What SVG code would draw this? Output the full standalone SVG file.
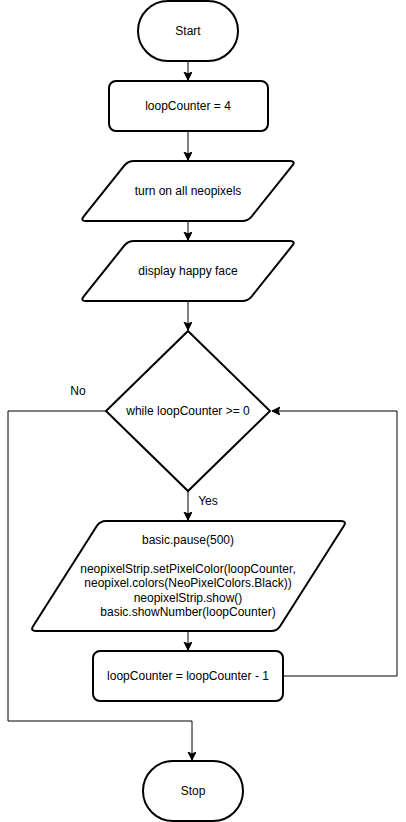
<svg xmlns="http://www.w3.org/2000/svg" width="406" height="822" viewBox="0 0 406 822">
<style>
.s{fill:#fff;stroke:#000;stroke-width:2}
.c{fill:none;stroke:#000;stroke-width:1}
text{font-family:"Liberation Sans",Arial,sans-serif;font-size:12px;fill:#000;text-anchor:middle;dominant-baseline:central}
</style>
<defs>
<marker id="a" markerWidth="10" markerHeight="10" refX="8" refY="4" orient="auto" markerUnits="userSpaceOnUse">
<path d="M0,0 L8,4 L0,8 L2,4 Z" fill="#000" stroke="#000" stroke-width="1"/>
</marker>
</defs>
<rect width="406" height="822" fill="#fff"/>
<g id="connectors">
<path class="c" d="M188,61 V80" marker-end="url(#a)"/>
<path class="c" d="M188,131 V160" marker-end="url(#a)"/>
<path class="c" d="M188,221 V240" marker-end="url(#a)"/>
<path class="c" d="M188,301 V330" marker-end="url(#a)"/>
<path class="c" d="M188,491 V520" marker-end="url(#a)"/>
<path class="c" d="M188,631 V650" marker-end="url(#a)"/>
<path class="c" d="M106,411 H8 V721 H192 V760" marker-end="url(#a)"/>
<path class="c" d="M284,676 H397 V411 H272" marker-end="url(#a)"/>
<text x="78" y="391">No</text>
<text x="208" y="501">Yes</text>
</g>
<g id="start">
<rect class="s" x="138" y="1" width="100" height="60" rx="30" ry="30"/>
<text x="188" y="31">Start</text>
</g>
<g id="init">
<rect class="s" x="109" y="81" width="159" height="50" rx="7" ry="7"/>
<text x="188" y="106">loopCounter = 4</text>
</g>
<g id="neopixels">
<path class="s" d="M134,161 L290,161 Q296,161 292.25,165.7 L251.75,216.3 Q248,221 242,221 L86,221 Q80,221 83.75,216.3 L124.25,165.7 Q128,161 134,161 Z"/>
<text x="188" y="191">turn on all neopixels</text>
</g>
<g id="happy">
<path class="s" d="M134,241 L290,241 Q296,241 292.25,245.7 L251.75,296.3 Q248,301 242,301 L86,301 Q80,301 83.75,296.3 L124.25,245.7 Q128,241 134,241 Z"/>
<text x="188" y="271">display happy face</text>
</g>
<g id="while">
<path class="s" d="M188,331 L270,411 L188,491 L106,411 Z"/>
<text x="188" y="411">while loopCounter &gt;= 0</text>
</g>
<g id="body">
<path class="s" d="M106,521 L341,521 Q347,521 343.78,526.06 L280.22,625.94 Q277,631 271,631 L36,631 Q30,631 33.22,625.94 L96.78,526.06 Q100,521 106,521 Z"/>
<text x="188" y="540">basic.pause(500)</text>
<text x="188" y="569">neopixelStrip.setPixelColor(loopCounter,</text>
<text x="188" y="583">neopixel.colors(NeoPixelColors.Black))</text>
<text x="188" y="598">neopixelStrip.show()</text>
<text x="188" y="612">basic.showNumber(loopCounter)</text>
</g>
<g id="decrement">
<rect class="s" x="93" y="651" width="190" height="50" rx="7" ry="7"/>
<text x="188" y="676">loopCounter = loopCounter - 1</text>
</g>
<g id="stop">
<rect class="s" x="143" y="761" width="100" height="60" rx="30" ry="30"/>
<text x="193" y="791">Stop</text>
</g>
</svg>
